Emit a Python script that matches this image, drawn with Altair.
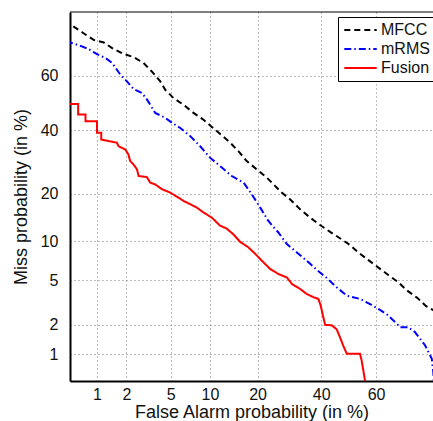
import altair as alt
import pandas as pd
from statistics import NormalDist

# False alarm (%) and miss (%)
mfcc_fa = [0.45, 0.5, 0.70, 0.92, 1.18, 1.44, 1.81, 2.34, 2.90, 3.45, 4.08, 4.50, 5.27, 6.35, 7.58, 8.98,
           10.3, 12.1, 13.7, 15.6, 17.3, 19.8, 22.5, 24.8, 26.8, 29.4, 32.7, 36.1, 39.6, 43.2, 46.8,
           50.5, 53.9, 57.5, 61.1, 64.3, 67.7, 70.6, 73.7, 76.3, 78.2, 80.0]
mfcc_miss = [78.0, 76.7, 74.2, 72.0, 71.2, 69.4, 67.7, 66.4, 64.4, 61.4, 57.9, 54.8, 51.8, 49.3, 46.3, 43.8,
             41.2, 38.1, 35.6, 32.4, 29.5, 26.9, 24.4, 22.1, 20.3, 18.6, 16.2, 14.4, 12.9, 11.6, 10.5,
             9.4, 8.2, 7.2, 6.3, 5.55, 4.83, 4.10, 3.55, 2.99, 2.76, 2.5]

mrms_fa = [0.45, 0.53, 0.66, 0.81, 1.0, 1.23, 1.44, 1.74, 2.02, 2.34, 2.81, 3.12, 3.69, 4.50, 5.12, 5.98,
           7.16, 8.50, 10.0, 12.1, 14.0, 16.6, 18.5, 20.7, 22.9, 25.8, 28.4, 31.6, 34.9, 38.4, 42.0,
           45.6, 49.3, 54.2, 58.4, 61.4, 64.0, 66.6, 68.3, 70.9, 73.0, 76.0, 77.9, 78.3, 78.6]
mrms_miss = [71.5, 71.0, 70.1, 69.1, 67.4, 66.1, 64.4, 60.3, 57.9, 55.1, 53.6, 51.2, 46.3, 44.5, 42.7, 40.8,
             37.9, 34.4, 30.6, 27.4, 24.9, 23.0, 19.9, 16.6, 13.7, 11.5, 9.55, 8.3, 7.2, 6.1, 5.24,
             4.38, 3.71, 3.47, 3.07, 2.76, 2.48, 2.12, 1.89, 1.89, 1.69, 1.24, 0.89, 0.64, 0.4]

fusion_fa = [0.45, 0.51, 0.62, 0.62, 0.75, 0.75, 1.0, 1.0, 1.11, 1.11, 1.61, 1.67, 1.95, 2.09, 2.17, 2.34,
             2.52, 2.61, 3.11, 3.33, 3.69, 4.22, 4.95, 5.79, 6.34, 7.15, 8.03, 8.98, 10.3, 11.7, 13.0,
             14.3, 15.8, 17.7, 19.4, 21.1, 23.4, 25.8, 28.4, 30.0, 32.7, 34.9, 37.2, 39.0, 39.8, 40.6,
             41.4, 43.8, 45.6, 46.8, 48.0, 49.3, 54.2, 54.8, 56.0, 56.3]
fusion_miss = [49.6, 49.6, 49.6, 45.7, 45.7, 43.2, 43.2, 39.1, 39.1, 36.7, 35.6, 34.4, 33.3, 31.6, 29.5, 28.4,
               26.9, 24.9, 24.6, 23.0, 22.5, 21.2, 20.3, 19.0, 18.2, 17.4, 16.6, 15.5, 14.4, 12.8, 12.2,
               11.2, 9.9, 9.05, 8.1, 7.2, 6.2, 5.65, 5.3, 4.68, 4.24, 3.84, 3.6, 3.47, 3.03, 2.45,
               1.99, 1.97, 1.80, 1.50, 1.23, 1.01, 1.01, 0.85, 0.51, 0.4]

series = ["MFCC", "mRMS", "Fusion"]
colors = ["#000000", "#0000ff", "#ff0000"]
dashes = [[6, 4], [7, 3, 1.5, 3], [1, 0]]

x_ticks = [1, 2, 5, 10, 20, 40, 60]
y_ticks = [1, 2, 5, 10, 20, 40, 60]

rows = []
for name, fa, miss in [("MFCC", mfcc_fa, mfcc_miss), ("mRMS", mrms_fa, mrms_miss), ("Fusion", fusion_fa, fusion_miss)]:
    for i, (a, b) in enumerate(zip(fa, miss)):
        rows.append({"series": name, "i": i, "fa": a, "miss": b})
df = pd.DataFrame(rows)

nd = NormalDist()
probit = lambda v: nd.inv_cdf(v / 100.0)
x_vals = [probit(v) for v in x_ticks]
y_vals = [probit(v) for v in y_ticks]

W, H = 363, 369
x_dom = [probit(0.5), 0.78]
y_dom = [probit(0.5), probit(80)]

FONT = "Liberation Sans"

lines = alt.Chart(df).transform_calculate(
    xp="quantileNormal(datum.fa / 100)",
    yp="quantileNormal(datum.miss / 100)",
).mark_line(clip=True, strokeWidth=2).encode(
    x=alt.X("xp:Q", scale=alt.Scale(domain=x_dom, nice=False, zero=False),
            axis=alt.Axis(values=x_vals, labelExpr="round(cumulativeNormal(datum.value) * 100)",
                          title="False Alarm probability (in %)", grid=True, ticks=False,
                          labelPadding=5, titlePadding=1)),
    y=alt.Y("yp:Q", scale=alt.Scale(domain=y_dom, nice=False, zero=False),
            axis=alt.Axis(values=y_vals, labelExpr="round(cumulativeNormal(datum.value) * 100)",
                          title="Miss probability (in %)", grid=True, ticks=False,
                          labelPadding=12, titlePadding=10)),
    color=alt.Color("series:N", scale=alt.Scale(domain=series, range=colors),
                    legend=alt.Legend(title=None, orient="none", legendX=268, legendY=5,
                                      strokeColor="black", fillColor="white", padding=5,
                                      symbolType="stroke", symbolSize=1050, symbolStrokeWidth=2,
                                      clipHeight=16, labelFontSize=16, labelFont=FONT, rowPadding=3,
                                      labelOffset=3, labelColor="#111111")),
    strokeDash=alt.StrokeDash("series:N", scale=alt.Scale(domain=series, range=dashes)),
    order=alt.Order("i:Q"),
)

top = alt.Chart(pd.DataFrame({"a": [0]})).mark_rule(color="black", strokeWidth=1).encode(
    x=alt.value(0), x2=alt.value(W), y=alt.value(0)
)

chart = alt.layer(lines, top).properties(
    width=W, height=H,
    autosize=alt.AutoSizeParams(type="none"),
    padding={"left": 70, "top": 12, "right": 0, "bottom": 40},
).configure_view(stroke=None).configure_axis(
    domainColor="black", domainWidth=2, gridColor="#777777", gridDash=[1, 3], gridWidth=1,
    labelFont=FONT, labelFontSize=16, labelColor="#111111",
    titleFont=FONT, titleFontSize=18, titleFontWeight="normal", titleColor="#111111",
)

chart.save("out.html", embed_options={"renderer": "svg", "actions": False})
